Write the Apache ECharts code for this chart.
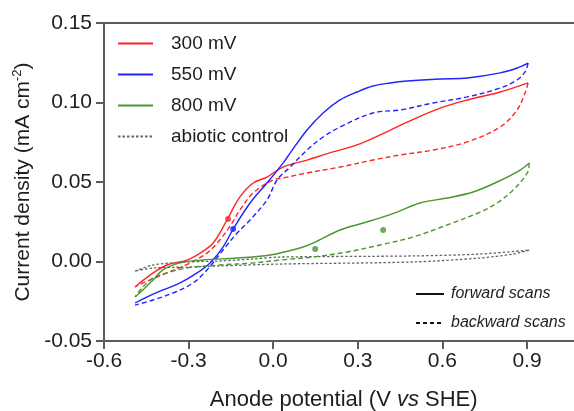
<!DOCTYPE html>
<html>
<head>
<meta charset="utf-8">
<script src="https://cdn.jsdelivr.net/npm/echarts@6/dist/echarts.min.js"></script>
<style>
  html, body { margin: 0; padding: 0; background: #fff; }
  #chart { width: 574px; height: 411px; }
</style>
</head>
<body>
<div id="chart"></div>
<script>
// Cyclic voltammograms: [potential (V vs SHE), current density (mA cm^-2)]
const xTicks = [-0.6, -0.3, 0.0, 0.3, 0.6, 0.9];
const yTicks = [-0.05, 0.00, 0.05, 0.10, 0.15];

const fwd300 = [[-0.490,-0.0160],[-0.426,-0.0072],[-0.377,-0.0022],[-0.306,0.0009],[-0.259,0.0053],
  [-0.213,0.0116],[-0.164,0.0261],[-0.118,0.0406],[-0.071,0.0494],[-0.022,0.0531],[0.035,0.0594],
  [0.120,0.0638],[0.212,0.0689],[0.297,0.0733],[0.379,0.0796],[0.475,0.0877],[0.592,0.0965],
  [0.688,0.1016],[0.805,0.1066],[0.904,0.1123]];
const bwd300 = [[0.904,0.1123],[0.893,0.1060],[0.865,0.0953],[0.805,0.0846],[0.688,0.0752],
  [0.567,0.0701],[0.450,0.0670],[0.354,0.0638],[0.237,0.0594],[0.120,0.0557],[0.035,0.0525],
  [0.000,0.0513],[-0.071,0.0431],[-0.118,0.0324],[-0.146,0.0242],[-0.189,0.0135],[-0.235,0.0053],
  [-0.295,-0.0009],[-0.377,-0.0072],[-0.462,-0.0135],[-0.490,-0.0160]];

const fwd550 = [[-0.490,-0.0261],[-0.447,-0.0223],[-0.391,-0.0179],[-0.330,-0.0135],[-0.270,-0.0072],
  [-0.224,-0.0009],[-0.178,0.0091],[-0.142,0.0204],[-0.082,0.0368],[-0.022,0.0494],[0.035,0.0619],
  [0.060,0.0682],[0.120,0.0827],[0.177,0.0934],[0.237,0.1016],[0.297,0.1066],[0.354,0.1104],
  [0.415,0.1123],[0.475,0.1135],[0.592,0.1148],[0.688,0.1154],[0.805,0.1186],[0.865,0.1217],
  [0.904,0.1248]];
const bwd550 = [[0.904,0.1248],[0.893,0.1192],[0.865,0.1142],[0.805,0.1091],[0.688,0.1035],
  [0.567,0.0997],[0.450,0.0953],[0.354,0.0934],[0.237,0.0846],[0.177,0.0783],[0.120,0.0701],
  [0.060,0.0594],[0.014,0.0513],[-0.022,0.0387],[-0.082,0.0261],[-0.128,0.0179],[-0.178,0.0072],
  [-0.235,-0.0053],[-0.284,-0.0135],[-0.355,-0.0198],[-0.426,-0.0242],[-0.490,-0.0274]];

const fwd800 = [[-0.490,-0.0223],[-0.462,-0.0179],[-0.426,-0.0116],[-0.391,-0.0053],[-0.330,-0.0009],
  [-0.249,0.0009],[-0.128,0.0022],[-0.011,0.0041],[0.095,0.0085],[0.141,0.0116],[0.237,0.0198],
  [0.319,0.0242],[0.379,0.0274],[0.439,0.0311],[0.521,0.0368],[0.617,0.0399],[0.709,0.0437],
  [0.794,0.0500],[0.876,0.0575],[0.908,0.0619]];
const bwd800 = [[0.908,0.0619],[0.901,0.0557],[0.851,0.0450],[0.794,0.0368],[0.734,0.0311],
  [0.617,0.0230],[0.496,0.0154],[0.379,0.0104],[0.262,0.0060],[0.141,0.0028],[0.024,0.0009],
  [-0.071,-0.0009],[-0.189,-0.0022],[-0.306,-0.0041],[-0.377,-0.0072],[-0.426,-0.0104],
  [-0.462,-0.0160],[-0.490,-0.0223]];

const abiotic = [[-0.490,-0.0060],[-0.426,-0.0022],[-0.306,-0.0003],[-0.189,0.0003],[-0.071,0.0016],
  [0.024,0.0028],[0.496,0.0035],[0.734,0.0047],[0.908,0.0072],[0.851,0.0047],[0.734,0.0022],
  [0.496,-0.0003],[0.024,-0.0016],[-0.189,-0.0028],[-0.306,-0.0035],[-0.426,-0.0041],[-0.490,-0.0060]];

// Midpoint potential markers
const mid300 = [[-0.160,0.0267]];
const mid550 = [[-0.142,0.0204]];
const mid800 = [[0.149,0.0079],[0.390,0.0198]];

const RED = '#ff2424', BLUE = '#2222ff', GREEN = '#4a9630', GREY = '#666666';
const FONT = '"Liberation Sans", Arial, sans-serif';
const INK = '#1e1e1e';
const AXIS = '#5c5c5c';

function cv(name, data, color, dashed) {
  return {
    name, type: 'line', data, symbol: 'none', smooth: 0.35, smoothMonotone: null,
    lineStyle: { color, width: 1.4, type: dashed ? [5, 3] : 'solid' },
    itemStyle: { color }, z: 3
  };
}
function dots(data, color) {
  return { type: 'scatter', data, symbol: 'circle', symbolSize: 6,
    itemStyle: { color }, z: 4, silent: true };
}

const chart = echarts.init(document.getElementById('chart'), null, { renderer: 'canvas' });
chart.setOption({
  animation: false,
  backgroundColor: '#fff',
  // the potential axis runs on past the right edge of the canvas
  grid: { left: 104, top: 23, height: 318, width: 479.4, outerBoundsMode: 'none', containLabel: false },
  legend: [
    {
      data: ['300 mV', '550 mV', '800 mV', 'abiotic control'],
      orient: 'vertical', left: 117, top: 34, padding: 0,
      itemWidth: 35, itemHeight: 12, itemGap: 12,
      itemStyle: { opacity: 0 },
      textStyle: { fontFamily: FONT, fontSize: 19, color: INK, padding: [0, 0, 0, 13] },
      selectedMode: false
    },
    {
      data: ['forward scans', 'backward scans'],
      orient: 'vertical', left: 415, top: 286, padding: 0,
      itemWidth: 28, itemHeight: 12, itemGap: 13,
      itemStyle: { opacity: 0 },
      textStyle: { fontFamily: FONT, fontSize: 16, fontStyle: 'italic', color: INK, padding: [0, 0, 0, 2] },
      selectedMode: false
    }
  ],
  xAxis: [
    {
      type: 'value', min: xTicks[0], max: 1.1, interval: 0.3,
      name: 'Anode potential (V {i|vs} SHE)', nameLocation: 'middle', nameGap: 48,
      nameTextStyle: { fontFamily: FONT, fontSize: 22, color: INK,
        rich: { i: { fontFamily: FONT, fontSize: 22, fontStyle: 'italic', color: INK } } },
      axisLine: { onZero: false, lineStyle: { color: AXIS, width: 2 } },
      axisTick: { inside: false, length: 8, lineStyle: { color: AXIS, width: 2 } },
      axisLabel: { fontFamily: FONT, fontSize: 21, color: INK, margin: 10, showMaxLabel: false,
        formatter: v => (xTicks.some(t => Math.abs(t - v) < 1e-9) ? v.toFixed(1) : '') },
      splitLine: { show: false }
    },
    {
      type: 'value', position: 'top', min: xTicks[0], max: 1.1, interval: 0.3,
      axisLine: { onZero: false, lineStyle: { color: AXIS, width: 2 } },
      axisTick: { show: false }, axisLabel: { show: false }, splitLine: { show: false }
    }
  ],
  yAxis: {
    type: 'value', min: yTicks[0], max: yTicks[yTicks.length - 1], interval: 0.05,
    name: 'Current density (mA cm{sup|-2})', nameLocation: 'middle', nameGap: 64, nameRotate: 90,
    nameTextStyle: { fontFamily: FONT, fontSize: 21, color: INK,
      rich: { sup: { fontFamily: FONT, fontSize: 13, color: INK, padding: [0, 0, 10, 0] } } },
    axisLine: { onZero: false, lineStyle: { color: AXIS, width: 2 } },
    axisTick: { inside: false, length: 8, lineStyle: { color: AXIS, width: 2 } },
    axisLabel: { fontFamily: FONT, fontSize: 21, color: INK, margin: 12,
      formatter: v => v.toFixed(2) },
    splitLine: { show: false }
  },
  series: [
    cv('300 mV', fwd300, RED, false),
    cv('300 mV', bwd300, RED, true),
    cv('550 mV', fwd550, BLUE, false),
    cv('550 mV', bwd550, BLUE, true),
    cv('800 mV', fwd800, GREEN, false),
    cv('800 mV', bwd800, GREEN, true),
    {
      name: 'abiotic control', type: 'line', data: abiotic, symbol: 'none', smooth: 0.3,
      lineStyle: { color: GREY, width: 1.3, type: [2.5, 2] }, itemStyle: { color: GREY }, z: 2
    },
    dots(mid300, RED),
    dots(mid550, BLUE),
    dots(mid800, GREEN),
    { name: 'forward scans', type: 'line', data: [], symbol: 'none',
      lineStyle: { color: '#111', width: 1.4 }, itemStyle: { color: '#111' } },
    { name: 'backward scans', type: 'line', data: [], symbol: 'none',
      lineStyle: { color: '#111', width: 1.4, type: [4, 3] }, itemStyle: { color: '#111' } }
  ]
});
</script>
</body>
</html>
